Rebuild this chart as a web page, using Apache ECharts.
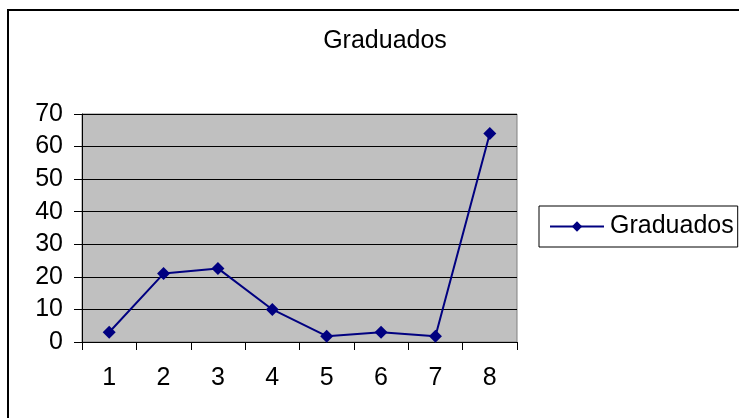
<!DOCTYPE html>
<html>
<head>
<meta charset="utf-8">
<script src="https://cdn.jsdelivr.net/npm/echarts@6/dist/echarts.min.js"></script>
<style>
html,body{margin:0;padding:0;background:#fff;}
#chart{width:739px;height:418px;}
</style>
</head>
<body>
<div id="chart"></div>
<script>
const categories = ['1','2','3','4','5','6','7','8'];
const graduados = [3, 21, 22.6, 10, 1.8, 3, 1.8, 64];
const seriesName = 'Graduados';
const titleText = 'Graduados';

const chart = echarts.init(document.getElementById('chart'));
const font = 'Liberation Sans, Arial, sans-serif';
const fs = 25;
chart.setOption({
  animation: false,
  backgroundColor: '#ffffff',
  graphic: [{
    type: 'rect',
    shape: { x: 8, y: 10, width: 800, height: 500 },
    style: { fill: 'none', stroke: '#000', lineWidth: 2 },
    silent: true
  }],
  title: {
    text: titleText,
    left: 380, top: 24,
    textAlign: 'center',
    textStyle: { fontFamily: font, fontSize: fs, fontWeight: 'normal', color: '#000' }
  },
  legend: {
    data: [seriesName],
    left: 539, top: 206,
    orient: 'vertical',
    borderColor: '#000', borderWidth: 1,
    padding: [8, 4, 8, 10],
    itemWidth: 54, itemHeight: 13,
    itemGap: 0,
    textStyle: { fontFamily: font, fontSize: fs, color: '#000', padding: [0, 0, 0, 1] }
  },
  grid: {
    left: 82, right: 222, top: 114, bottom: 76,
    show: true, backgroundColor: '#c0c0c0', borderColor: '#808080', borderWidth: 1
  },
  xAxis: {
    type: 'category',
    data: categories,
    boundaryGap: true,
    axisLine: { lineStyle: { color: '#000', width: 1 } },
    axisTick: { show: true, length: 8, lineStyle: { color: '#000' } },
    axisLabel: { fontFamily: font, fontSize: fs, color: '#000', margin: 24 },
    splitLine: { show: false }
  },
  yAxis: {
    type: 'value',
    min: 0, max: 70, interval: 10,
    axisLine: { show: true, lineStyle: { color: '#000', width: 1 } },
    axisTick: { show: true, length: 8, lineStyle: { color: '#000' } },
    axisLabel: { fontFamily: font, fontSize: fs, color: '#000', margin: 19 },
    splitLine: { show: true, lineStyle: { color: '#000', width: 1 } }
  },
  series: [{
    name: seriesName,
    type: 'line',
    data: graduados,
    color: '#000080',
    symbol: 'diamond',
    symbolSize: 13,
    lineStyle: { color: '#000080', width: 2 },
    itemStyle: { color: '#000080' }
  }]
});
</script>
</body>
</html>
